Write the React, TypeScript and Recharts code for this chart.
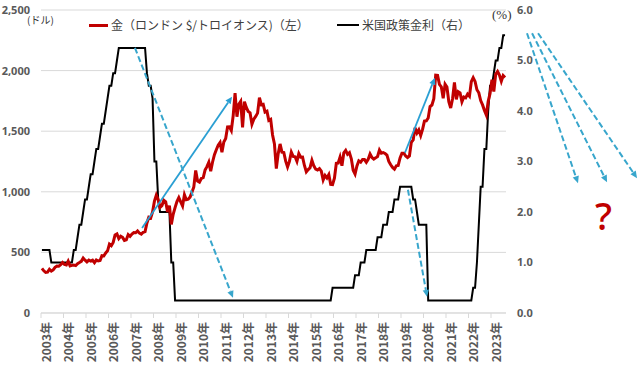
import React from 'react';
import { ComposedChart, Line, XAxis, YAxis, CartesianGrid, Legend, ReferenceLine } from 'recharts';

// 月末値 2003年1月〜2023年8月
const years = [2003, 2004, 2005, 2006, 2007, 2008, 2009, 2010, 2011, 2012, 2013, 2014, 2015, 2016, 2017, 2018, 2019, 2020, 2021, 2022, 2023];

const goldLondon = [
  368, 348, 335, 337, 361, 346, 355, 376, 388, 386, 398, 416,
  400, 396, 428, 389, 393, 396, 391, 407, 416, 426, 453, 436,
  422, 436, 428, 436, 415, 437, 429, 433, 473, 471, 496, 513,
  569, 556, 582, 644, 653, 614, 633, 624, 599, 604, 647, 632,
  651, 664, 662, 677, 659, 651, 666, 672, 743, 790, 784, 834,
  923, 972, 934, 871, 886, 930, 918, 833, 885, 731, 815, 870,
  920, 952, 917, 883, 976, 935, 939, 956, 996, 1040, 1176, 1088,
  1079, 1110, 1116, 1179, 1208, 1244, 1169, 1246, 1307, 1347, 1384, 1406,
  1327, 1411, 1439, 1536, 1537, 1506, 1629, 1814, 1620, 1722, 1746, 1531,
  1744, 1696, 1663, 1651, 1558, 1599, 1622, 1649, 1776, 1719, 1722, 1658,
  1665, 1589, 1598, 1469, 1395, 1192, 1315, 1395, 1327, 1324, 1253, 1205,
  1251, 1327, 1292, 1289, 1251, 1315, 1285, 1286, 1217, 1164, 1183, 1199,
  1260, 1214, 1187, 1180, 1191, 1171, 1098, 1135, 1114, 1142, 1062, 1060,
  1112, 1235, 1237, 1286, 1215, 1321, 1342, 1309, 1323, 1272, 1178, 1146,
  1213, 1256, 1245, 1267, 1266, 1243, 1268, 1312, 1283, 1270, 1280, 1291,
  1345, 1318, 1324, 1316, 1303, 1251, 1223, 1201, 1187, 1215, 1218, 1279,
  1319, 1319, 1295, 1283, 1295, 1409, 1428, 1528, 1485, 1511, 1464, 1515,
  1583, 1586, 1609, 1703, 1716, 1768, 1963, 1961, 1887, 1866, 1771, 1888,
  1864, 1743, 1691, 1768, 1902, 1763, 1826, 1816, 1743, 1782, 1775, 1806,
  1788, 1909, 1942, 1911, 1842, 1817, 1753, 1717, 1672, 1634, 1746, 1812,
  1924, 1827, 1969, 1993, 1963, 1912, 1959, 1943,
];

const fedRate = [
  1.25, 1.25, 1.25, 1.25, 1.25, 1.0, 1.0, 1.0, 1.0, 1.0, 1.0, 1.0,
  1.0, 1.0, 1.0, 1.0, 1.0, 1.25, 1.25, 1.5, 1.75, 1.75, 2.0, 2.25,
  2.25, 2.5, 2.75, 2.75, 3.0, 3.25, 3.25, 3.5, 3.75, 3.75, 4.0, 4.25,
  4.5, 4.5, 4.75, 4.75, 5.0, 5.25, 5.25, 5.25, 5.25, 5.25, 5.25, 5.25,
  5.25, 5.25, 5.25, 5.25, 5.25, 5.25, 5.25, 5.25, 4.75, 4.5, 4.5, 4.25,
  3.0, 3.0, 2.25, 2.0, 2.0, 2.0, 2.0, 2.0, 2.0, 1.0, 1.0, 0.25,
  0.25, 0.25, 0.25, 0.25, 0.25, 0.25, 0.25, 0.25, 0.25, 0.25, 0.25, 0.25,
  0.25, 0.25, 0.25, 0.25, 0.25, 0.25, 0.25, 0.25, 0.25, 0.25, 0.25, 0.25,
  0.25, 0.25, 0.25, 0.25, 0.25, 0.25, 0.25, 0.25, 0.25, 0.25, 0.25, 0.25,
  0.25, 0.25, 0.25, 0.25, 0.25, 0.25, 0.25, 0.25, 0.25, 0.25, 0.25, 0.25,
  0.25, 0.25, 0.25, 0.25, 0.25, 0.25, 0.25, 0.25, 0.25, 0.25, 0.25, 0.25,
  0.25, 0.25, 0.25, 0.25, 0.25, 0.25, 0.25, 0.25, 0.25, 0.25, 0.25, 0.25,
  0.25, 0.25, 0.25, 0.25, 0.25, 0.25, 0.25, 0.25, 0.25, 0.25, 0.25, 0.5,
  0.5, 0.5, 0.5, 0.5, 0.5, 0.5, 0.5, 0.5, 0.5, 0.5, 0.5, 0.75,
  0.75, 0.75, 1.0, 1.0, 1.0, 1.25, 1.25, 1.25, 1.25, 1.25, 1.25, 1.5,
  1.5, 1.5, 1.75, 1.75, 1.75, 2.0, 2.0, 2.0, 2.25, 2.25, 2.25, 2.5,
  2.5, 2.5, 2.5, 2.5, 2.5, 2.5, 2.25, 2.25, 2.0, 1.75, 1.75, 1.75,
  1.75, 1.75, 0.25, 0.25, 0.25, 0.25, 0.25, 0.25, 0.25, 0.25, 0.25, 0.25,
  0.25, 0.25, 0.25, 0.25, 0.25, 0.25, 0.25, 0.25, 0.25, 0.25, 0.25, 0.25,
  0.25, 0.25, 0.5, 0.5, 1.0, 1.75, 2.5, 2.5, 3.25, 3.25, 4.0, 4.5,
  4.5, 4.75, 5.0, 5.0, 5.25, 5.25, 5.5, 5.5,
];

const goldTicks = [0, 500, 1000, 1500, 2000, 2500];
const rateTicks = [0, 1, 2, 3, 4, 5, 6];

// 注釈の矢印（月インデックス, 値）
const goldArrows = [
  { from: [53.9, 702], to: [101.9, 1785] },
  { from: [194.1, 1322], to: [210.1, 1942] },
];
const rateArrows = [
  { from: [50.1, 5.25], to: [102.4, 0.3] },
  { from: [195.7, 2.44], to: [205.9, 0.32] },
  { from: [259.2, 5.54], to: [286.4, 2.57] },
  { from: [261.9, 5.54], to: [301.9, 2.59] },
  { from: [265.1, 5.54], to: [317.9, 2.67] },
];

const data = goldLondon.map((g, i) => ({ m: i + 0.5, gold: g, fed: fedRate[i] }));

const tickFont = { fontFamily: '"Noto Sans", sans-serif', fontSize: 11, fontWeight: 700, fill: '#595959' };

const YearTick = ({ x, y, payload }: any) => (
  <text
    transform={`translate(${x + 4},${y + 2}) rotate(-90)`}
    textAnchor="end"
    dominantBaseline="central"
    style={{ fontFamily: '"Noto Sans CJK JP", sans-serif', fontSize: 12, fontWeight: 700, fill: '#595959' }}
  >
    {`${years[Math.round(payload.value / 12)]}年`}
  </text>
);

const arrowShape = (color: string, dashed: boolean) => (p: any) => {
  const { x1, y1, x2, y2 } = p;
  const dx = x2 - x1;
  const dy = y2 - y1;
  const len = Math.sqrt(dx * dx + dy * dy) || 1;
  const ux = dx / len;
  const uy = dy / len;
  const bx = x2 - ux * 7;
  const by = y2 - uy * 7;
  const hw = 3.2;
  return (
    <g>
      <line x1={x1} y1={y1} x2={bx} y2={by} stroke={color} strokeWidth={dashed ? 2 : 1.8} strokeDasharray={dashed ? '6 3' : undefined} />
      <polygon points={`${x2},${y2} ${bx - uy * hw},${by + ux * hw} ${bx + uy * hw},${by - ux * hw}`} fill={color} />
    </g>
  );
};

// 凡例は金 → 政策金利の順
const renderLegend = (props: any) => {
  const items = [...(props.payload || [])].reverse();
  return (
    <div style={{ display: 'flex', alignItems: 'center', fontFamily: '"Noto Sans CJK JP", sans-serif', fontSize: 12, color: '#404040', lineHeight: '18px' }}>
      {items.map((entry: any, i: number) => (
        <div key={`leg-${i}`} style={{ display: 'flex', alignItems: 'center', marginRight: i === 0 ? 28 : 0 }}>
          <span style={{ display: 'inline-block', width: i === 0 ? 19 : 22, height: i === 0 ? 3 : 2, background: entry.color, marginRight: 3 }} />
          <span>{entry.value}</span>
        </div>
      ))}
    </div>
  );
};

export default function App() {
  return (
    <div style={{ position: 'fixed', left: 0, top: 0, width: 640, height: 365, background: '#fff' }}>
      <ComposedChart width={640} height={365} data={data} margin={{ top: 10, right: 0, bottom: 0, left: 0 }}>
        <CartesianGrid yAxisId="left" vertical={false} stroke="#d9d9d9" />
        <XAxis
          dataKey="m"
          type="number"
          domain={[0, 248]}
          ticks={years.map((_, k) => k * 12)}
          interval={0}
          height={52}
          stroke="#d9d9d9"
          tickSize={5}
          tick={<YearTick />}
        />
        <YAxis
          yAxisId="left"
          width={41}
          domain={[0, 2500]}
          ticks={goldTicks}
          axisLine={false}
          tickLine={false}
          tickSize={0}
          tickMargin={11}
          tick={tickFont}
          tickFormatter={(v: number) => v.toLocaleString('en-US')}
        />
        <YAxis
          yAxisId="right"
          orientation="right"
          width={134}
          domain={[0, 6]}
          ticks={rateTicks}
          axisLine={false}
          tickLine={false}
          tickSize={0}
          tickMargin={11}
          tick={{ ...tickFont, textAnchor: 'start' }}
          tickFormatter={(v: number) => v.toFixed(1)}
        />
        <Legend verticalAlign="middle" align="center" layout="horizontal" content={renderLegend} wrapperStyle={{ top: 16, left: 89, width: 420 }} />
        <Line yAxisId="right" dataKey="fed" name="米国政策金利（右）" type="linear" stroke="#000000" strokeWidth={2} dot={false} isAnimationActive={false} legendType="line" />
        <Line yAxisId="left" dataKey="gold" name="金（ロンドン $/トロイオンス)（左）" type="linear" stroke="#C00000" strokeWidth={3} dot={false} isAnimationActive={false} legendType="line" />
        {goldArrows.map((a, i) => (
          <ReferenceLine
            key={`ga-${i}`}
            yAxisId="left"
            ifOverflow="visible"
            segment={[{ x: a.from[0], y: a.from[1] }, { x: a.to[0], y: a.to[1] }]}
            shape={arrowShape('#2A9FD3', false)}
          />
        ))}
        {rateArrows.map((a, i) => (
          <ReferenceLine
            key={`ra-${i}`}
            yAxisId="right"
            ifOverflow="visible"
            segment={[{ x: a.from[0], y: a.from[1] }, { x: a.to[0], y: a.to[1] }]}
            shape={arrowShape('#38A6CC', true)}
          />
        ))}
      </ComposedChart>
      <div style={{ position: 'absolute', left: 27, top: 14, fontFamily: '"Noto Sans CJK JP", sans-serif', fontSize: 10, color: '#333', lineHeight: '12px' }}>(ドル)</div>
      <div style={{ position: 'absolute', left: 492, top: 7, fontFamily: '"Liberation Serif", serif', fontSize: 13, color: '#333', lineHeight: '16px' }}>(%)</div>
      <div style={{ position: 'absolute', left: 595, top: 194, fontFamily: '"Noto Sans", sans-serif', fontSize: 38, fontWeight: 500, color: '#C00000', lineHeight: '42px' }}>?</div>
    </div>
  );
}
